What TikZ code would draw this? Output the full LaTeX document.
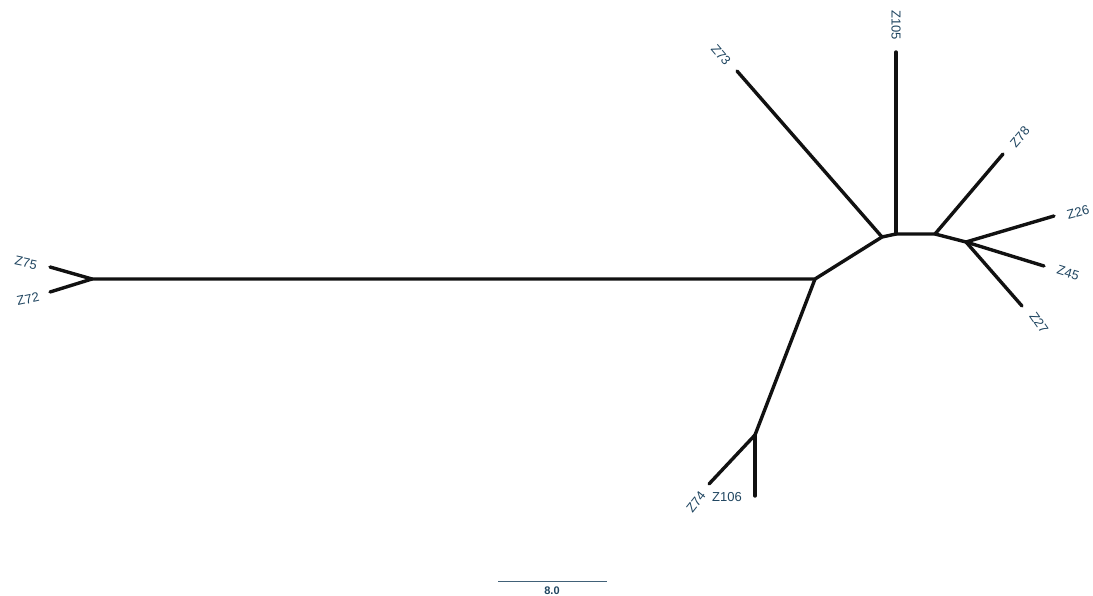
\documentclass[tikz,border=0pt]{standalone}
\usepackage{fontspec}
\setmainfont{Liberation Sans}
\usetikzlibrary{positioning}
\definecolor{TreeBranch}{HTML}{111111}
\definecolor{TreeLabel}{HTML}{1F4560}

\begin{document}
\begin{tikzpicture}[
  x=1pt,y=-1pt,
  branch/.style={draw=TreeBranch,line width=3.4pt,line cap=round,line join=round},
  taxon/.style={font=\fontsize{13}{15}\selectfont,text=TreeLabel,inner sep=0pt},
  scalebar/.style={draw=TreeLabel!85,line width=1pt},
  scaletext/.style={font=\bfseries\fontsize{11}{13}\selectfont,text=TreeLabel,inner sep=0pt}
]
  \useasboundingbox (0,0) rectangle (1093,596);

  % Internal vertices of the unrooted tree.
  \coordinate (vLeft)  at (92,279);
  \coordinate (vHub)   at (815,279);
  \coordinate (vTop)   at (882,237);
  \coordinate (vMidA)  at (896,234);
  \coordinate (vMidB)  at (935,234);
  \coordinate (vRight) at (966,242);
  \coordinate (vLow)   at (755,435);

  % Leaf ends.
  \coordinate (tZ75)  at (50,267);
  \coordinate (tZ72)  at (50,292);
  \coordinate (tZ73)  at (737,71);
  \coordinate (tZ105) at (896,52);
  \coordinate (tZ78)  at (1003,154);
  \coordinate (tZ26)  at (1054,216);
  \coordinate (tZ45)  at (1044,266);
  \coordinate (tZ27)  at (1022,306);
  \coordinate (tZ74)  at (709,484);
  \coordinate (tZ106) at (755,496);

  % Backbone.
  \draw[branch] (vLeft) -- (vHub) -- (vTop) -- (vMidA) -- (vMidB) -- (vRight);
  \draw[branch] (vHub) -- (vLow);

  % Terminal branches.
  \draw[branch] (vLeft) -- (tZ75);
  \draw[branch] (vLeft) -- (tZ72);
  \draw[branch] (vTop) -- (tZ73);
  \draw[branch] (vMidA) -- (tZ105);
  \draw[branch] (vMidB) -- (tZ78);
  \draw[branch] (vRight) -- (tZ26);
  \draw[branch] (vRight) -- (tZ45);
  \draw[branch] (vRight) -- (tZ27);
  \draw[branch] (vLow) -- (tZ74);
  \draw[branch] (vLow) -- (tZ106);

  % Taxon names, turned along their branches.
  \node[taxon,rotate=-12] (lZ75)  at (26,263)   {Z75};
  \node[taxon,rotate=12]  (lZ72)  at (28,299)   {Z72};
  \node[taxon,rotate=-50] (lZ73)  at (721,55)   {Z73};
  \node[taxon,rotate=-90] (lZ105) at (896,25)   {Z105};
  \node[taxon,rotate=50]  (lZ78)  at (1020,137) {Z78};
  \node[taxon,rotate=15]  (lZ26)  at (1078,212) {Z26};
  \node[taxon,rotate=-17] (lZ45)  at (1068,273) {Z45};
  \node[taxon,rotate=-55] (lZ27)  at (1039,323) {Z27};
  \node[taxon,rotate=52]  (lZ74)  at (696,502)  {Z74};
  \node[taxon]            (lZ106) at (727,497)  {Z106};

  % Scale bar.
  \coordinate (sLeft)  at (498,581);
  \coordinate (sRight) at (607,581);
  \draw[scalebar] (sLeft) -- (sRight);
  \node[scaletext] (sText) at (552,591) {8.0};
\end{tikzpicture}
\end{document}
